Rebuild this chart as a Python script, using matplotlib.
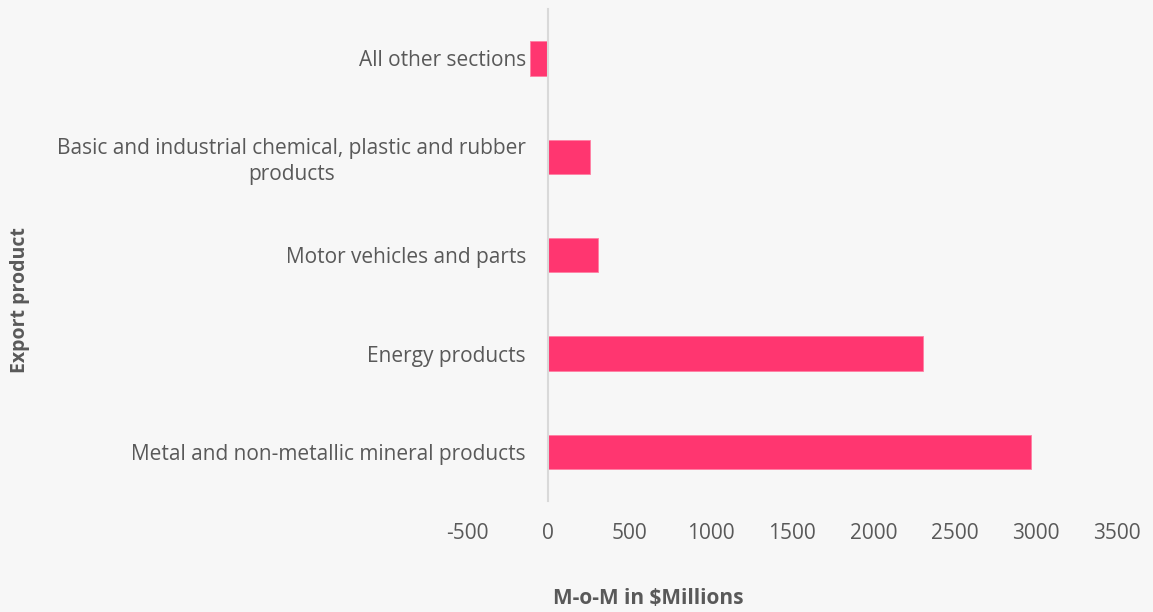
import matplotlib.pyplot as plt

categories = [
    'Metal and non-metallic mineral products',
    'Energy products',
    'Motor vehicles and parts',
    'Basic and industrial chemical, plastic and rubber\nproducts',
    'All other sections',
]
values = [2970, 2308, 308, 254, -115]
xticks = [-500, 0, 500, 1000, 1500, 2000, 2500, 3000, 3500]

bg = '#f7f7f7'
bar_color = '#ff3670'
text_color = '#595959'

plt.rcParams['font.family'] = ['Open Sans', 'DejaVu Sans']

fig = plt.figure(figsize=(11.53, 6.12), dpi=100, facecolor=bg)
ax = fig.add_axes([0.405, 0.181, 0.564, 0.804], facecolor=bg)

ypos = list(range(len(categories)))
ax.barh(ypos, values, height=0.35, color=bar_color, edgecolor='#ff7fa3', linewidth=0.6, zorder=2)

# y axis sits on zero, labels follow it
for s in ['top', 'right', 'bottom']:
    ax.spines[s].set_visible(False)
ax.spines['left'].set_position(('data', 0))
ax.spines['left'].set_color('#d9d9d9')
ax.spines['left'].set_linewidth(1.5)

ax.set_xlim(-500, 3500)
ax.set_ylim(-0.5, len(categories) - 0.5)
ax.set_xticks(xticks)
ax.set_xticklabels([str(t) for t in xticks], fontsize=15, color=text_color)
ax.set_yticks(ypos)
ax.set_yticklabels(categories, fontsize=15, color=text_color, ha='right', multialignment='center', linespacing=1.3)
ax.tick_params(axis='both', length=0)
ax.tick_params(axis='x', pad=16)
ax.tick_params(axis='y', pad=16)

fig.text(0.562, 0.022, 'M-o-M in $Millions', fontsize=15, fontweight='bold', color=text_color, ha='center', va='center')
fig.text(0.017, 0.51, 'Export product', fontsize=14, fontweight='bold', color=text_color, rotation=90, ha='center', va='center')

fig.savefig('out.png', dpi=100, facecolor=bg)
